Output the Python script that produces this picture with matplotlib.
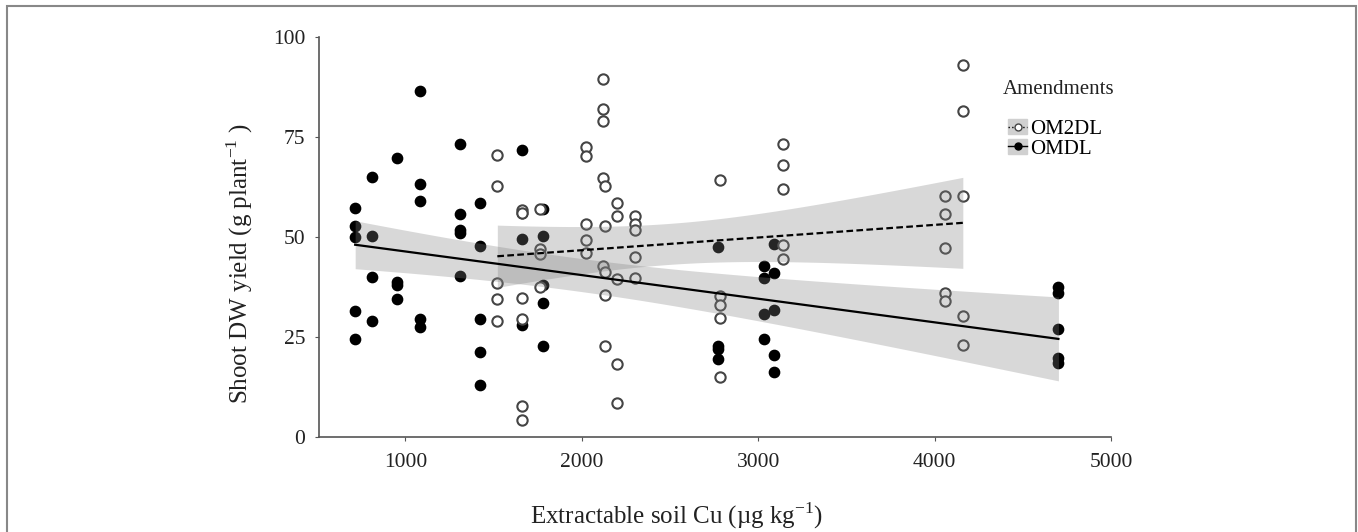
import numpy as np
import matplotlib
matplotlib.use('Agg')
import matplotlib.pyplot as plt
from matplotlib.lines import Line2D
from matplotlib.patches import Patch, Rectangle

plt.rcParams['font.family'] = ['Liberation Serif', 'DejaVu Serif']

# OMDL (filled) - x group and values
omdl_x = [715] * 5 + [809] * 4 + [951] * 4 + [1081] * 5 + [1310] * 5 + [1421] * 5 \
    + [1663] * 4 + [1782] * 5 + [2772] * 4 + [3030] * 4 + [3092] * 5 + [4702] * 5
omdl_y = [57.1, 52.8, 49.9, 31.5, 24.5,
          65.0, 50.3, 39.9, 29.0,
          69.8, 38.8, 37.9, 34.4,
          86.5, 63.1, 59.0, 29.4, 27.4,
          73.2, 55.7, 51.8, 51.0, 40.1,
          58.5, 47.7, 29.5, 21.2, 12.9,
          71.7, 55.9, 49.5, 27.9,
          57.0, 50.3, 38.0, 33.4, 22.7,
          47.4, 22.7, 22.0, 19.5,
          42.7, 39.6, 30.7, 24.5,
          48.2, 41.0, 31.6, 20.4, 16.1,
          37.5, 35.9, 26.9, 19.6, 18.4]

# OM2DL (open)
om2dl_x = [1521] * 5 + [1663] * 6 + [1761] * 4 + [2022] * 5 + [2120] * 5 + [2131] * 5 \
    + [2201] * 5 + [2301] * 5 + [2781] * 5 + [3142] * 5 + [4061] * 5 + [4160] * 5
om2dl_y = [70.4, 62.8, 38.4, 34.4, 29.0,
           56.7, 56.0, 34.6, 29.4, 7.7, 4.3,
           57.0, 46.9, 45.7, 37.5,
           72.6, 70.3, 53.2, 49.3, 45.9,
           89.5, 81.9, 78.9, 64.7, 42.7,
           62.8, 52.8, 41.1, 35.5, 22.6,
           58.4, 55.1, 39.4, 18.2, 8.4,
           55.1, 53.2, 51.7, 44.9, 39.8,
           64.3, 35.3, 32.9, 29.6, 14.9,
           73.2, 68.0, 62.0, 48.0, 44.4,
           60.3, 55.7, 47.2, 35.9, 34.0,
           92.9, 81.5, 60.3, 30.2, 22.9]

x_ticks = [1000, 2000, 3000, 4000, 5000]
y_ticks = [0, 25, 50, 75, 100]


def fit_band(x, y, t=2.01):
    x = np.asarray(x, float)
    y = np.asarray(y, float)
    b, a = np.polyfit(x, y, 1)
    xs = np.linspace(x.min(), x.max(), 100)
    ys = a + b * xs
    n = len(x)
    resid = y - (a + b * x)
    s = np.sqrt(np.sum(resid ** 2) / (n - 2))
    se = s * np.sqrt(1 / n + (xs - x.mean()) ** 2 / np.sum((x - x.mean()) ** 2))
    return xs, ys, ys - t * se, ys + t * se


fig = plt.figure(figsize=(13.58, 5.32), dpi=100)
ax = fig.add_axes([319 / 1358, 1 - 436.7 / 532, (1111 - 319) / 1358, (436.7 - 37) / 532])

ax.scatter(omdl_x, omdl_y, s=55, c='black', edgecolors='black', linewidths=1.0, zorder=2)
ax.scatter(om2dl_x, om2dl_y, s=55, facecolors='white', edgecolors='#444444', linewidths=1.5, zorder=2)

for xs_, ys_, ls in [(omdl_x, omdl_y, '-'), (om2dl_x, om2dl_y, '--')]:
    xs, ys, lo, hi = fit_band(xs_, ys_)
    ax.fill_between(xs, lo, hi, color='#808080', alpha=0.3, lw=0, zorder=3)
    ax.plot(xs, ys, color='black', ls=ls, lw=1.6, zorder=4,
            dashes=(3, 1.5) if ls == '--' else (None, None))

ax.set_xlim(510, 5000)
ax.set_ylim(0, 100)
ax.set_xticks(x_ticks)
ax.set_yticks(y_ticks)
for s in ['top', 'right']:
    ax.spines[s].set_visible(False)
for s in ['left', 'bottom']:
    ax.spines[s].set_color('#555555')
    ax.spines[s].set_linewidth(1.2)
ax.tick_params(axis='both', direction='out', length=3, color='#555555', labelsize=15.5, labelcolor='#222222')
ax.tick_params(axis='y', pad=7)
ax.tick_params(axis='x', pad=9)

ax.set_xlabel('Extractable soil Cu (µg kg$^{\\mathregular{-1}}$)', fontsize=18, color='#222222')
ax.set_ylabel('Shoot DW yield (g plant$^{\\mathregular{-1}}$ )', fontsize=18, color='#222222')
ax.xaxis.set_label_coords(0.452, -0.16)
ax.yaxis.set_label_coords(-0.081, 0.432)

fig.text(1003 / 1358, 1 - 90 / 532, 'Amendments', fontsize=15, va='center', ha='left', color='#222222')
h1 = (Patch(color='#d0d0d0'), Line2D([], [], color='black', ls=':', lw=1, marker='o', ms=5,
                                      mfc='white', mec='#444444'))
h2 = (Patch(color='#d0d0d0'), Line2D([], [], color='black', ls='-', lw=1, marker='o', ms=5,
                                      mfc='black', mec='black'))
fig.legend([h1, h2], ['OM2DL', 'OMDL'], loc='upper left',
           bbox_to_anchor=(998 / 1358, 1 - 109 / 532), frameon=False, fontsize=15,
           handlelength=0.9, handletextpad=0.15, labelspacing=0.0, borderpad=0)

fig.patches.append(Rectangle((7 / 1358, -0.02), (1356 - 7) / 1358, 1.02 - 6 / 532,
                             transform=fig.transFigure, fill=False, edgecolor='#888888', lw=1.5))

fig.savefig('out.png', dpi=100)
